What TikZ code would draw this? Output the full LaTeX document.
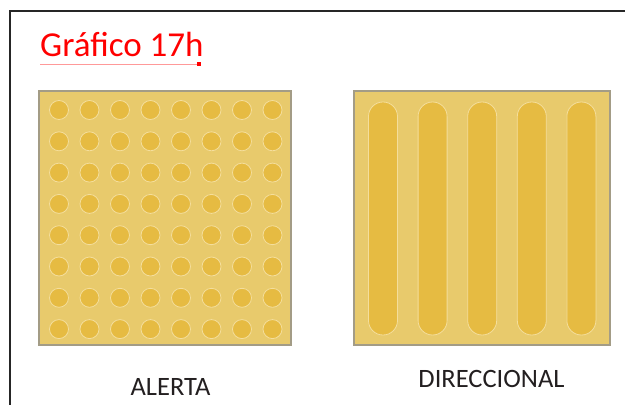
\documentclass[tikz,border=0pt]{standalone}
\usepackage{fontspec}
\setmainfont{Carlito}
\definecolor{tilebg}{HTML}{E8CA6C}
\definecolor{bumpfill}{HTML}{E6BB42}
\definecolor{bumprim}{HTML}{F4DE9C}
\definecolor{tileedge}{HTML}{A39C86}
\definecolor{labeltext}{HTML}{231F20}
\begin{document}
\begin{tikzpicture}[x=1pt,y=-1pt,
	tile/.style={fill=tilebg, draw=tileedge, line width=1.3pt},
	bump/.style={fill=bumpfill, draw=bumprim, line width=0.8pt},
	caption/.style={anchor=base, text=labeltext, font=\fontsize{26.5}{30}\selectfont}]
		\useasboundingbox (0,0) rectangle (625,405);
		% frame
		\draw[line width=2pt, black!85] (10,405) -- (10,11) -- (625,11);
		% title
		\node[anchor=base west, inner sep=0pt, text=red, font=\fontsize{35}{40}\selectfont] (title) at (40,56) {Gráfico 17h};
		\draw[red!40, line width=0.8pt] (40,64) -- (199,64);
		\fill[red] (197,62) rectangle (201,66);
		% alerta tile
		\filldraw[tile] (39,91) rectangle (291,345);
		\foreach \i in {0,...,7}
			\foreach \j in {0,...,7}
				\filldraw[bump] (59+30.5*\i, 110+31.3*\j) circle (9.5);
		% direccional tile
		\filldraw[tile] (354,91) rectangle (610,345);
		\foreach \i in {0,...,4}
			\filldraw[bump, rounded corners=14.4] (368.5+49.6*\i,102) rectangle (397.5+49.6*\i,335);
		\node[caption] (alerta) at (170.5,395) {ALERTA};
		\node[caption] (direccional) at (491.5,387) {DIRECCIONAL};
	\end{tikzpicture}
\end{document}
